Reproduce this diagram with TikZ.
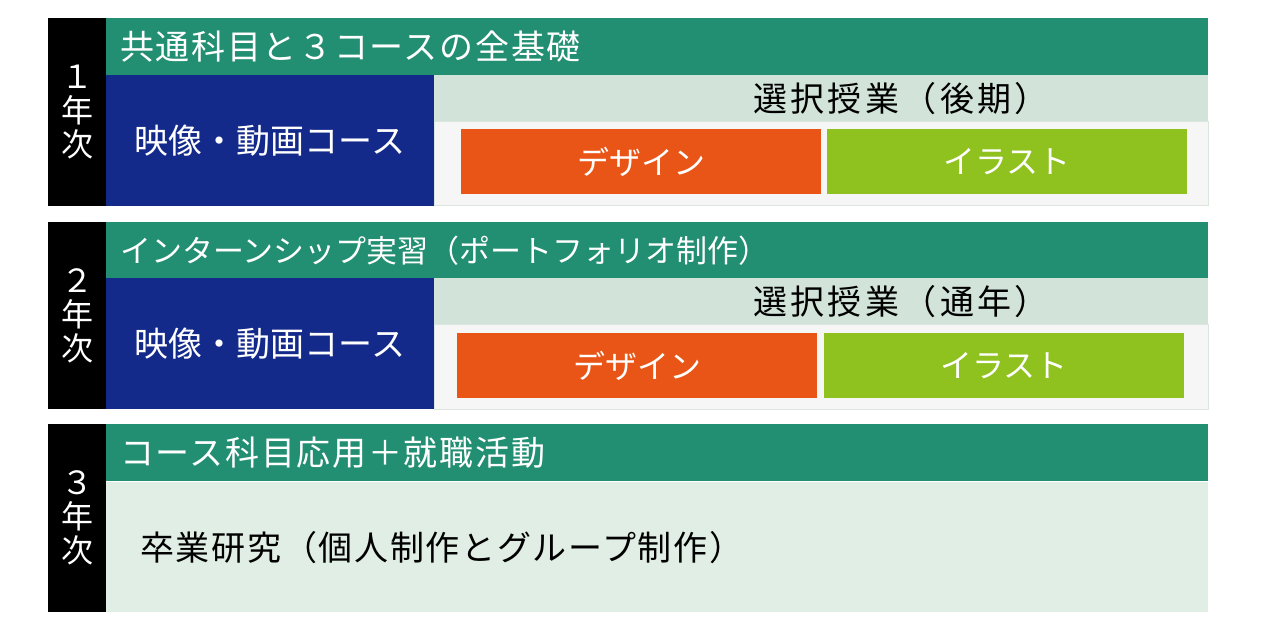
\documentclass[tikz,border=0pt]{standalone}
\usepackage{fontspec}
\setmainfont{Noto Sans CJK JP}
\newfontfamily\spacedjp[LetterSpace=5]{Noto Sans CJK JP}
\newfontfamily\widejp[LetterSpace=10]{Noto Sans CJK JP}
\definecolor{hdgreen}{HTML}{228E72}
\definecolor{crsblue}{HTML}{142A8A}
\definecolor{bandgreen}{HTML}{D2E4D9}
\definecolor{boxgray}{HTML}{F5F6F5}
\definecolor{edgegray}{HTML}{DAE6DE}
\definecolor{dsorange}{HTML}{E95516}
\definecolor{illime}{HTML}{8FC21F}
\definecolor{bodygreen}{HTML}{E1EEE5}
\begin{document}
\begin{tikzpicture}[
  x=1pt, y=-1pt,
  cell/.style={inner sep=0pt, outer sep=0pt, anchor=north west},
  yearbar/.style={cell, fill=black, text=white, minimum width=58pt, align=center,
    font=\fontsize{32}{34}\selectfont},
  header/.style={cell, fill=hdgreen, text=white, minimum width=1102pt, minimum height=57pt,
    text width=1074pt, inner xsep=14pt, align=left, font=\spacedjp\fontsize{34}{36}\selectfont},
  course/.style={cell, fill=crsblue, text=white, minimum width=328pt, minimum height=131pt,
    font=\fontsize{34}{36}\selectfont},
  band/.style={cell, fill=bandgreen, minimum width=774pt, minimum height=47pt},
  panel/.style={cell, fill=boxgray, draw=edgegray, line width=1pt, minimum width=774pt, minimum height=84pt},
  pick/.style={cell, text=white, minimum width=360pt, minimum height=65pt,
    font=\fontsize{32}{34}\selectfont},
  label/.style={inner sep=0pt, font=\fontsize{34}{36}\selectfont}
]
\useasboundingbox (0,0) rectangle (1264,636);
% 1st year
\node[yearbar, minimum height=188pt] (y1) at (48,18) {１\\年\\次};
\node[header] (h1) at (106,18) {共通科目と３コースの全基礎};
\node[course] (c1) at (106,75) {映像・動画コース};
\node[band] (b1) at (434,75) {};
\node[panel] (p1) at (434,122) {};
\node[label, font=\widejp\fontsize{34}{36}\selectfont] (s1) at (901,99) {選択授業（後期）};
\node[pick, fill=dsorange] (d1) at (461,129) {デザイン};
\node[pick, fill=illime] (i1) at (827,129) {イラスト};
% 2nd year
\node[yearbar, minimum height=187pt] (y2) at (48,222) {２\\年\\次};
\node[header, font=\fontsize{31}{33}\selectfont] (h2) at (106,222) {インターンシップ実習（ポートフォリオ制作）};
\node[course] (c2) at (106,278) {映像・動画コース};
\node[band] (b2) at (434,278) {};
\node[panel] (p2) at (434,325) {};
\node[label, font=\widejp\fontsize{34}{36}\selectfont] (s2) at (901,302) {選択授業（通年）};
\node[pick, fill=dsorange] (d2) at (457,333) {デザイン};
\node[pick, fill=illime] (i2) at (824,333) {イラスト};
% 3rd year
\node[yearbar, minimum height=188pt] (y3) at (48,424) {３\\年\\次};
\node[header] (h3) at (106,424) {コース科目応用＋就職活動};
\node[cell, fill=bodygreen, minimum width=1102pt, minimum height=130pt] (r3) at (106,482) {};
\node[label, anchor=west, font=\spacedjp\fontsize{34}{36}\selectfont] (g3) at (140,548) {卒業研究（個人制作とグループ制作）};
\end{tikzpicture}
\end{document}
